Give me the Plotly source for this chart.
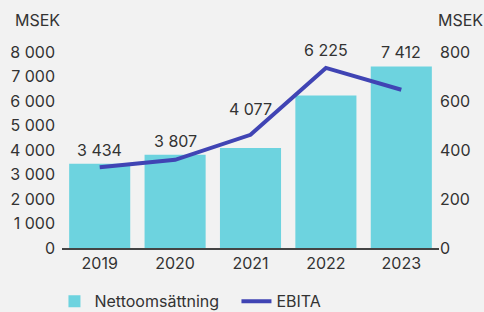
import plotly.graph_objects as go

years = ["2019", "2020", "2021", "2022", "2023"]
net_sales = [3434, 3807, 4077, 6225, 7412]
ebita = [330, 360, 462, 735, 646]
left_ticks = [0, 1000, 2000, 3000, 4000, 5000, 6000, 7000, 8000]
right_ticks = [0, 200, 400, 600, 800]

def fmt(v):
    return f"{v:,}".replace(",", " ")

BAR = "#6dd3df"
LINE = "#4044b4"
TXT = "#333333"
FONT = "Inter"
FS = 16
label_shift = [2, 2, 14, 6, 2]  # pixel offsets of value labels

fig = go.Figure()
fig.add_trace(go.Bar(x=years, y=net_sales, name="Nettoomsättning",
                     marker=dict(color=BAR, line=dict(width=0)), yaxis="y"))
fig.add_trace(go.Scatter(x=years, y=ebita, name="EBITA", mode="lines",
                         line=dict(color=LINE, width=4), yaxis="y2"))

# value labels above the higher of bar / line
for i, v in enumerate(net_sales):
    top = max(v, ebita[i] * 10)
    fig.add_annotation(x=i, y=top, xref="x", yref="y", text=fmt(v), showarrow=False,
                       yanchor="bottom", yshift=label_shift[i],
                       font=dict(family=FONT, size=FS, color=TXT))

fig.add_annotation(xref="paper", yref="paper", x=-0.13, y=1.0, yshift=32,
                   text="MSEK", showarrow=False, xanchor="left", yanchor="middle",
                   font=dict(family=FONT, size=FS, color=TXT))
fig.add_annotation(xref="paper", yref="paper", x=1.0, y=1.0, yshift=32, xshift=-3,
                   text="MSEK", showarrow=False, xanchor="left", yanchor="middle",
                   font=dict(family=FONT, size=FS, color=TXT))

fig.update_layout(
    width=484, height=312,
    margin=dict(l=62, r=45, t=52, b=64, autoexpand=False),
    paper_bgcolor="#f2f2f2", plot_bgcolor="#f2f2f2",
    font=dict(family=FONT, size=FS, color=TXT),
    bargap=0.19,
    showlegend=True,
    legend=dict(orientation="h", x=-0.02, xanchor="left", y=-0.185, yanchor="top",
                font=dict(family=FONT, size=FS, color=TXT),
                entrywidth=137, traceorder="normal"),
    xaxis=dict(type="category", range=[-0.5, 4.5], showgrid=False, zeroline=False,
               showline=True, linecolor="#444444", linewidth=2, ticks="",
               tickfont=dict(family=FONT, size=FS, color=TXT)),
    yaxis=dict(range=[0, 8000], tickvals=left_ticks,
               ticktext=[fmt(t) for t in left_ticks], showgrid=False,
               zeroline=False, showline=False, ticks="", ticklabelstandoff=6,
               tickfont=dict(family=FONT, size=FS, color=TXT)),
    yaxis2=dict(range=[0, 800], tickvals=right_ticks,
                ticktext=[fmt(t) for t in right_ticks], overlaying="y",
                side="right", showgrid=False, zeroline=False, showline=False,
                ticks="", tickfont=dict(family=FONT, size=FS, color=TXT)),
)

fig.write_html("out.html", config={"displayModeBar": False},
               post_script="document.body.style.margin='0px';"
                           "document.body.style.overflow='hidden';"
                           "document.body.style.background='#f2f2f2';")
